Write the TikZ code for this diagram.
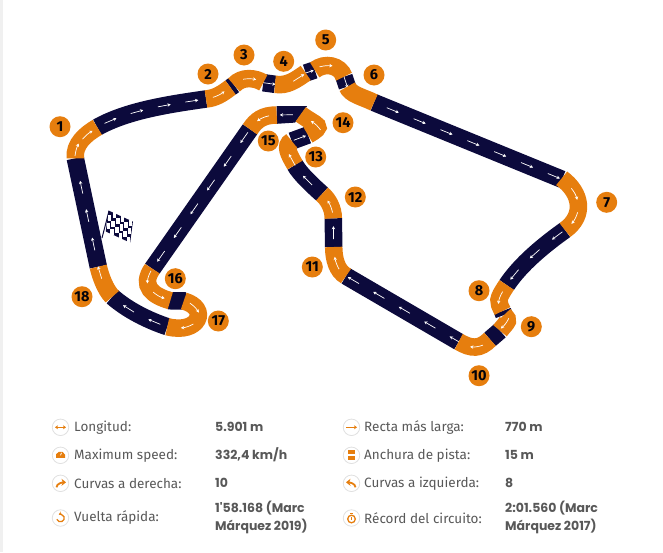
\documentclass[tikz,border=0pt]{standalone}
\usepackage{fontspec}
\setmainfont{Fira Sans}
\newfontfamily\valuefont{Poppins}
\usetikzlibrary{%
	calc,%
	arrows.meta,%
	decorations.markings
}
\definecolor{tracknavy}{RGB}{12,10,60}
\definecolor{trackorange}{RGB}{230,126,14}
\definecolor{legendgray}{RGB}{88,88,88}
\tikzset{
	navyseg/.style={draw=tracknavy,line width=17.5pt},
	orangeseg/.style={draw=trackorange,line width=17.5pt},
	flow/.style={postaction={decorate,decoration={markings,
		mark=between positions #1 with {\draw[white,line width=.7pt,-{Stealth[length=3.2pt,width=3.4pt]}] (-6.5pt,0pt) -- (6.5pt,0pt);}}}},
	bentflow/.style 2 args={postaction={decorate,decoration={markings,
		mark=between positions #1 with {\draw[white,line width=.7pt,-{Stealth[length=3.2pt,width=3.4pt]}] (-6.5pt,#2) .. controls (-2pt,0pt) and (2pt,0pt) .. (6.5pt,#2);}}}},
	turnno/.style={circle,fill=trackorange,text=black!85!tracknavy,inner sep=0pt,minimum size=21pt,font=\fontsize{14.5}{14.5}\selectfont\bfseries},
	iconring/.style={circle,draw=black!12,fill=white,line width=.8pt,minimum size=16.5pt,inner sep=0pt},
	iconline/.style={trackorange,line width=1.3pt},
	bigtip/.style={-{Stealth[length=4.5pt,width=7pt]}},
	smalltip/.style={-{Stealth[length=3pt,width=4pt]}},
	factname/.style={anchor=west,text=legendgray,inner sep=0pt,font=\fontsize{13.5}{18}\selectfont\fontseries{l}\selectfont},
	factvalue/.style={anchor=west,text=legendgray,inner sep=0pt,align=left,font=\fontsize{12.5}{18}\selectfont\valuefont\bfseries}
}
\begin{document}
\begin{tikzpicture}[x=1pt,y=-1pt]
	\useasboundingbox (0,0) rectangle (663,552);
	\fill[black!6] (0,0) rectangle (3,552);

	% Track, navy stretches
	\draw[navyseg,flow={0.21 and 0.8 step 29pt}] (98.3,266.7) -- (75.3,158.3);
	\draw[navyseg,flow={0.13 and 0.95 step 28pt}] (97.3,127.3) .. controls +(30,-17) and +(-35,5) .. (206,99);
	\draw[navyseg] (230.5,87.5) -- (234,85);
	\draw[navyseg,flow={0.5 and 0.6 step 30pt}] (263.3,82.7) -- (275,84.3);
	\draw[navyseg,flow={0.2 and 0.3 step 30pt}] (305.7,73) -- (314.7,70);
	\draw[navyseg,flow={0.5 and 0.6 step 30pt}] (344,76.7) -- (347.3,86.7);
	\draw[navyseg,flow={0.1 and 0.98 step 29pt}] (374,102.5) -- (562,179.3);
	\draw[navyseg,flow={0.12 and 0.95 step 29pt}] (565,230) .. controls +(-21,15) and +(14,-21) .. (506.7,285);
	\draw[navyseg] (502.5,311) -- (504,315);
	\draw[navyseg] (500,330.7) -- (490,339.3);
	\draw[navyseg,flow={0.03 and 0.98 step 29.5pt}] (458.7,341.7) -- (346,276);
	\draw[navyseg,flow={0.5 and 0.6 step 30pt}] (333.7,247) -- (333.3,218.3);
	\draw[navyseg,flow={0.5 and 0.6 step 30pt}] (322,194) .. controls +(-9,-8) and +(5,9) .. (295,165);
	\draw[navyseg,flow={0.5 and 0.6 step 30pt}] (291.7,141) -- (308,135);
	\fill[tracknavy] (276.7,106.2) -- (307,106.2) -- (295,122.6) -- (276.7,123.8) -- cycle;
	\path[flow={0.5 and 0.6 step 30pt}] (296,114.7) -- (276.7,115);
	\draw[navyseg,flow={0.06 and 0.95 step 29pt}] (250,129.3) -- (152.3,268.7);
	\draw[navyseg] (168,300.7) -- (186,301);
	\draw[navyseg,flow={0.22 and 0.9 step 29pt}] (167.3,326.7) .. controls +(-18,-6) and +(16,14) .. (112.3,296.7);

	% Track, orange corners
	\draw[orangeseg,bentflow={0.82 and 0.9 step 30pt}{0pt}] (112.3,296.7) .. controls +(-7,-7) and +(2,9) .. (98.3,266.7);
	\draw[orangeseg,bentflow={0.22 and 0.7 step 19pt}{-.8pt}] (75.3,158.3) .. controls +(-1.5,-14) and +(-12,7) .. (97.3,127.3);
	\draw[orangeseg,bentflow={0.5 and 0.6 step 30pt}{.8pt}] (206,99) .. controls +(10,-1) and +(-8,6) .. (230.5,87.5);
	\draw[orangeseg,bentflow={0.55 and 0.6 step 30pt}{-.8pt}] (234,85) .. controls +(8,-9) and +(-8,-5) .. (263.3,82.7);
	\draw[orangeseg,flow={0.75 and 0.8 step 30pt}] (275,84.3) .. controls +(12,2) and +(-10,7) .. (305.7,73);
	\draw[orangeseg,bentflow={0.35 and 0.4 step 30pt}{-.8pt}] (314.7,70) .. controls +(10,-8) and +(-4,-11.7) .. (344,76.7);
	\draw[orangeseg] (347.3,86.7) .. controls +(3,8) and +(-11,-5.5) .. (374,102.5);
	\draw[orangeseg,bentflow={0.33 and 0.9 step 26pt}{-1pt}] (561.7,178.3) .. controls +(20,15) and +(20,-14.5) .. (565,230);
	\draw[orangeseg,bentflow={0.5 and 0.6 step 30pt}{1pt}] (506.7,285) .. controls +(-10,15) and +(-5,-10) .. (502.5,311);
	\draw[orangeseg,bentflow={0.55 and 0.6 step 30pt}{-1pt}] (504,315) .. controls +(6,6) and +(8,-10) .. (500,330.7);
	\draw[orangeseg,bentflow={0.45 and 0.6 step 30pt}{-1pt}] (490,339.3) .. controls +(-10,10) and +(13,7.5) .. (458.7,341.7);
	\draw[orangeseg,bentflow={0.5 and 0.6 step 30pt}{-.8pt}] (346,276) .. controls +(-9,-5) and +(0,12) .. (333.7,247);
	\draw[orangeseg,bentflow={0.45 and 0.55 step 30pt}{.8pt}] (333.3,218.3) .. controls +(0,-10) and +(6,5) .. (322,194);
	\draw[orangeseg,flow={0.22 and 0.3 step 30pt}] (295,165) .. controls +(-6,-10.5) and +(-8,4.6) .. (291.7,141);
	\draw[orangeseg,bentflow={0.45 and 0.55 step 30pt}{1pt}] (308,135) .. controls +(17,-10) and +(17,12.5) .. (300.7,114.3);
	\draw[orangeseg,bentflow={0.45 and 0.6 step 30pt}{1pt}] (276.7,115) .. controls +(-14,0) and +(6,-9) .. (250,129.3);
	\draw[orangeseg,bentflow={0.2 and 0.85 step 24pt}{1pt}] (152.3,268.7) .. controls +(-12,17) and +(-18,-5) .. (170.3,300.7);
	\draw[orangeseg,bentflow={0.22 and 0.85 step 26pt}{-1pt}] (183.7,301) .. controls +(26,7) and +(32,8) .. (167.3,326.7);

	% Flag
	\draw[tracknavy,line width=1pt] (109,211) -- (102,238);
	\begin{scope}[shift={(108.5,210.5)},x={(4.07pt,-1.85pt)},y={(-0.55pt,-4.2pt)}]
		\fill[tracknavy] (0,0) -- (6,0) -- (6,5) -- (0,5) -- cycle;
		\foreach \col in {0,...,5}
			\foreach \row in {0,...,4} {
				\pgfmathparse{int(mod(\col+\row,2))}
				\ifnum\pgfmathresult=1
					\fill[white] (\col,\row) rectangle ++(1,1);
				\fi
			}
	\end{scope}

	% Turn numbers
	\node[turnno] (t1) at (60,126.7) {1};
	\node[turnno] (t2) at (208,74) {2};
	\node[turnno] (t3) at (244,55) {3};
	\node[turnno] (t4) at (283.7,61.3) {4};
	\node[turnno] (t5) at (325.7,40) {5};
	\node[turnno] (t6) at (374,75) {6};
	\node[turnno] (t7) at (606.7,202.3) {7};
	\node[turnno] (t8) at (479,290.7) {8};
	\node[turnno] (t9) at (531.3,326.7) {9};
	\node[turnno] (t10) at (479,375.7) {10};
	\node[turnno] (t11) at (312.3,267) {11};
	\node[turnno] (t12) at (355.3,197) {12};
	\node[turnno] (t13) at (315.7,157) {13};
	\node[turnno] (t14) at (343,122.7) {14};
	\node[turnno] (t15) at (268.3,141) {15};
	\node[turnno] (t16) at (175.3,278.7) {16};
	\node[turnno] (t17) at (218.3,321) {17};
	\node[turnno] (t18) at (82,296.7) {18};

	% Left facts
	\node[iconring] (ilen) at (60.5,427.3) {};
	\node[iconring] (ispeed) at (60.5,455.3) {};
	\node[iconring] (iright) at (60.5,483.3) {};
	\node[iconring] (ilap) at (60.5,518) {};
	\node[factname] (nlen) at (74,427.3) {Longitud:};
	\node[factname] (nspeed) at (74,455.3) {Maximum speed:};
	\node[factname] (nright) at (74,483.3) {Curvas a derecha:};
	\node[factname] (nlap) at (74,518) {Vuelta rápida:};
	\node[factvalue] (vlen) at (215,426.5) {5.901 m};
	\node[factvalue] (vspeed) at (215,454.5) {332,4 km/h};
	\node[factvalue] (vright) at (215,482.5) {10};
	\node[factvalue] (vlap) at (215,517) {1'58.168 (Marc\\Márquez 2019)};

	% Right facts
	\node[iconring] (ilong) at (351.5,427.3) {};
	\node[iconring] (iwide) at (351.5,455.3) {};
	\node[iconring] (ileft) at (351.5,483.3) {};
	\node[iconring] (irec) at (351.5,518) {};
	\node[factname] (nlong) at (364,427.3) {Recta más larga:};
	\node[factname] (nwide) at (364,455.3) {Anchura de pista:};
	\node[factname] (nleft) at (364,483.3) {Curvas a izquierda:};
	\node[factname] (nrec) at (364,518) {Récord del circuito:};
	\node[factvalue] (vlong) at (505,426.5) {770 m};
	\node[factvalue] (vwide) at (505,454.5) {15 m};
	\node[factvalue] (vleft) at (505,482.5) {8};
	\node[factvalue] (vrec) at (505,517) {2:01.560 (Marc\\Márquez 2017)};

	% Icons
	\draw[iconline,{Stealth[length=3pt,width=4pt]}-{Stealth[length=3pt,width=4pt]}] ($(ilen)+(-5.5,0)$) -- ($(ilen)+(5.5,0)$);
	\fill[trackorange] ($(ispeed)+(-4.5,2.6)$) arc (160:380:4.8) -- cycle;
	\draw[white,line width=.7pt] ($(ispeed)+(0,0)$) -- ($(ispeed)+(1,-2.5)$);
	\draw[iconline,line width=1.8pt,bigtip] ($(iright)+(-4,4)$) .. controls +(0,-4) and +(-3,0) .. ($(iright)+(5.5,-1)$);
	\draw[iconline,line width=1.3pt,smalltip] ($(ilap)+(-3.6,1.3)$) arc (160:-115:3.8);
	\draw[iconline,smalltip] ($(ilong)+(-5.5,0)$) -- ($(ilong)+(5.5,0)$);
	\fill[trackorange] ($(iwide)+(-3.5,-5)$) rectangle ($(iwide)+(3.5,-1)$);
	\fill[trackorange] ($(iwide)+(-3.5,1)$) rectangle ($(iwide)+(3.5,5)$);
	\draw[iconline,line width=1.8pt,bigtip] ($(ileft)+(4,4)$) .. controls +(0,-4) and +(3,0) .. ($(ileft)+(-5.5,-1)$);
	\draw[iconline] ($(irec)+(0,1)$) circle (3.8);
	\draw[iconline] ($(irec)+(-1.5,-4.8)$) -- ($(irec)+(1.5,-4.8)$);
	\draw[iconline,line width=1pt] ($(irec)+(0,1.5)$) -- ($(irec)+(0,-1)$);
\end{tikzpicture}
\end{document}
